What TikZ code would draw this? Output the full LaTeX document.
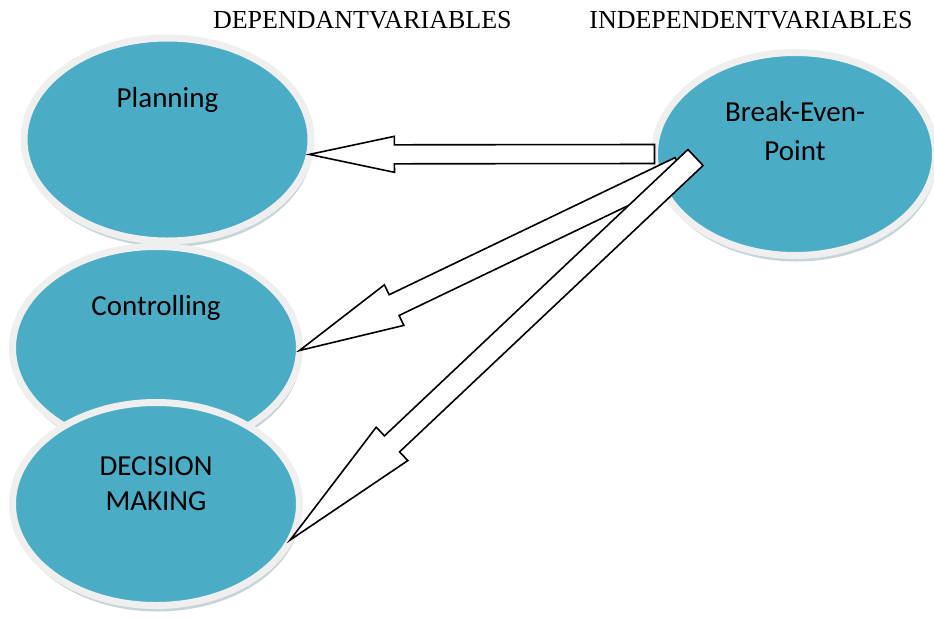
\documentclass[tikz,border=0pt]{standalone}
\usepackage{fontspec}
\setmainfont{Liberation Serif}
\newfontfamily\bubblefont{Carlito}
\usepackage{tikz}
\usetikzlibrary{calc}
\usetikzlibrary{shapes.geometric}
\usetikzlibrary{shadows}

\definecolor{bubblefill}{HTML}{4BACC6}
\definecolor{bubblerim}{HTML}{EFEFEF}
\definecolor{bubbleshade}{HTML}{C5D4D8}

% hollow arrow: tail, tip, half shaft width, half head width, head length
\newcommand{\blockarrow}[5]{%
  \coordinate (#1-#2-h) at ($(#2)!#5!(#1)$);
  \draw[hollow] ($(#1)!#3!90:(#2)$) -- ($(#1-#2-h)!#3!90:(#2)$)
    -- ($(#1-#2-h)!#4!90:(#2)$) -- (#2)
    -- ($(#1-#2-h)!#4!-90:(#2)$) -- ($(#1-#2-h)!#3!-90:(#2)$)
    -- ($(#1)!#3!-90:(#2)$) -- cycle;}

\begin{document}
\begin{tikzpicture}[x=0.5pt,y=-0.5pt]
  \tikzstyle{bubble}=[ellipse,fill=bubblefill,draw=bubblerim,line width=3.5pt,
    minimum width=143.5pt,minimum height=101.5pt,inner sep=0pt,outer sep=0pt,
    drop shadow={shadow xshift=0.75pt,shadow yshift=-3pt,fill=bubbleshade,opacity=1}]
  \tikzstyle{bubbletext}=[font=\bubblefont\fontsize{14.5}{17.5}\selectfont,align=center,text=black]
  \tikzstyle{heading}=[font=\fontsize{13}{15}\selectfont,inner sep=0pt]
  \tikzstyle{hollow}=[draw=black,fill=white,line width=0.8pt,line join=miter]
  \useasboundingbox (0,0) rectangle (934,618);

  \node[heading,anchor=base east] (dep) at (512,28) {DEPENDANTVARIABLES};
  \node[heading,anchor=base west] (indep) at (589,28) {INDEPENDENTVARIABLES};

  \node[bubble,label={[bubbletext,yshift=20pt]center:Planning}] (plan) at (167.5,139.5) {};
  \node[bubble,label={[bubbletext,yshift=20pt]center:Controlling}] (ctrl) at (156,348) {};
  \node[bubble,label={[bubbletext,yshift=10.4pt]center:DECISION\\MAKING}] (dec) at (156,504) {};
  \node[bubble,minimum width=140.5pt,
    label={[bubbletext,yshift=11.6pt]center:Break-Even-\\[2pt]Point}] (bep) at (795,154) {};

  \coordinate (bep-a) at (bep.west);
  \coordinate (bep-b) at (680,168);
  \coordinate (bep-c) at (695.5,157.5);
  \coordinate (plan-in) at (plan.-6);
  \coordinate (ctrl-in) at (ctrl.-1);
  \coordinate (dec-in) at (dec.-15);

  \blockarrow{bep-a}{plan-in}{4.75pt}{9pt}{42.5pt}
  \blockarrow{bep-b}{ctrl-in}{5.75pt}{11.25pt}{52.5pt}
  \blockarrow{bep-c}{dec-in}{5.5pt}{11.5pt}{70pt}
\end{tikzpicture}
\end{document}
